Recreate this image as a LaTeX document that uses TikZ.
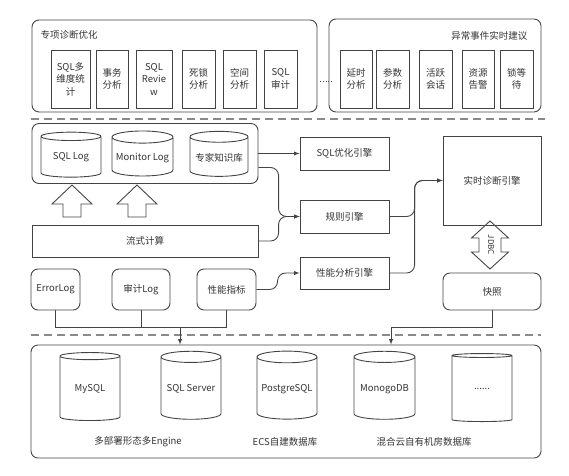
\documentclass[tikz,border=0pt]{standalone}
\usepackage{fontspec}
\setmainfont{Noto Sans CJK SC}
\usetikzlibrary{shapes.geometric}

\definecolor{linegray}{HTML}{444444}
\definecolor{txtgray}{HTML}{333333}
\definecolor{sepgray}{HTML}{8A8A8A}

\tikzset{
  grp/.style={draw=linegray, line width=0.9pt, rounded corners=7},
  item/.style={draw=linegray, line width=0.9pt, align=center, inner sep=1pt, minimum height=58},
  eng/.style={draw=linegray, line width=0.9pt, inner sep=1pt, minimum width=89, minimum height=33},
  src/.style={draw=linegray, line width=0.9pt, rounded corners=7, inner sep=1pt, minimum height=41},
  db/.style={cylinder, shape border rotate=90, aspect=0.22, draw=linegray, line width=0.9pt, minimum width=60, inner sep=1pt},
  blockarrow/.style={draw=linegray, line width=0.9pt, line join=miter},
  conn/.style={draw=linegray, line width=0.9pt, -latex, rounded corners=8},
  wire/.style={draw=linegray, line width=0.9pt},
  sepline/.style={draw=sepgray, line width=1.4pt, dash pattern=on 8pt off 5pt}
}

\begin{document}
\begin{tikzpicture}[x=1pt, y=-1pt, font=\fontsize{9.5}{12.5}\selectfont, text=txtgray]
        \useasboundingbox (0,0) rectangle (569,475);

        % special diagnosis
        \node[grp, minimum width=285, minimum height=92] (diag) at (174.5,66) {};
        \node[anchor=west] (diagtitle) at (37,35) {专项诊断优化};
        \node[item, minimum width=39] (multi) at (70.5,79) {SQL多\\维度统\\计};
        \node[item, minimum width=32] (trans) at (112,79) {事务\\分析};
        \node[item, minimum width=36] (review) at (154,79) {SQL\\Revie\\w};
        \node[item, minimum width=33] (dead) at (198.5,79) {死锁\\分析};
        \node[item, minimum width=33] (space) at (239.5,79) {空间\\分析};
        \node[item, minimum width=33] (sqlaudit) at (280.5,79) {SQL\\审计};
        \draw[linegray, dotted, line width=0.8pt] (320,81) -- (332,81);

        % realtime advice
        \node[grp, minimum width=212, minimum height=93] (alert) at (435,65.5) {};
        \node[anchor=east] (alerttitle) at (531,36) {异常事件实时建议};
        \node[item, minimum width=32] (delay) at (356,79) {延时\\分析};
        \node[item, minimum width=33] (param) at (392.5,79) {参数\\分析};
        \node[item, minimum width=33] (active) at (435.5,79) {活跃\\会话};
        \node[item, minimum width=32] (res) at (478,79) {资源\\告警};
        \node[item, minimum width=33] (lockwait) at (516.5,79) {锁等\\待};

        \draw[sepline] (31,119) -- (545,119);

        % logs and compute
        \node[grp, minimum width=226, minimum height=60] (logs) at (145,153.5) {};
        \node[db, minimum height=45] (sqllog) at (71,157.5) {SQL Log};
        \node[db, minimum height=45, minimum width=61] (monlog) at (142.5,157.5) {Monitor Log};
        \node[db, minimum height=45, minimum width=58] (expert) at (219,157.5) {专家知识库};
        \draw[blockarrow, shift={(72,0)}] (0,185) -- (20,204) -- (9,204) -- (9,217) -- (-9,217) -- (-9,204) -- (-20,204) -- cycle;
        \draw[blockarrow, shift={(137,0)}] (0,185) -- (20,204) -- (9,204) -- (9,217) -- (-9,217) -- (-9,204) -- (-20,204) -- cycle;
        \node[draw=linegray, line width=0.9pt, minimum width=226, minimum height=32] (flow) at (145,241) {流式计算};

        % engines
        \node[eng] (sqlopt) at (344.5,153.5) {SQL优化引擎};
        \node[eng] (rule) at (344.5,216.5) {规则引擎};
        \node[eng, minimum height=32] (perfeng) at (344.5,273) {性能分析引擎};
        \node[draw=linegray, line width=0.9pt, minimum width=98, minimum height=89] (rt) at (492,180.5) {实时诊断引擎};
        \draw[blockarrow, shift={(490,0)}] (0,221) -- (18.5,238) -- (11,238) -- (11,252) -- (18.5,252) -- (0,269)
              -- (-18.5,252) -- (-11,252) -- (-11,238) -- (-18.5,238) -- cycle;
        \node[rotate=-90, font=\fontsize{8}{9}\selectfont, inner sep=0pt] (jdbc) at (491,245) {JDBC};
        \node[src, minimum width=98, minimum height=37] (snap) at (492,291.5) {快照};

        % sources
        \node[src, minimum width=49] (err) at (55.5,289.5) {ErrorLog};
        \node[src, minimum width=58] (audit) at (141,289.5) {审计Log};
        \node[src, minimum width=59] (perf) at (226.5,289.5) {性能指标};

        \draw[conn] (logs.east) -- (sqlopt.west);
        \draw[conn] ([yshift=-14]logs.east) -| ([xshift=-21]rule.west) -- (rule.west);
        \draw[conn] (flow.east) -| ([xshift=-21]rule.west) -- (rule.west);
        \draw[conn] (perf.east) -| ([xshift=-22]perfeng.west) -- (perfeng.west);
        \draw[conn] (rule.east) -| ([xshift=-28]rt.west) -- (rt.west);
        \draw[conn] (perfeng.east) -| ([xshift=-28]rt.west) -- (rt.west);

        \draw[sepline] (31,335) -- (541,335);

        % databases
        \node[grp, minimum width=510, minimum height=113] (dbs) at (286,401.5) {};
        \node[db, minimum height=68] (mysql) at (90,389) {MySQL};
        \node[db, minimum height=68] (mssql) at (191,389) {SQL Server};
        \node[db, minimum height=68] (pg) at (287,389) {PostgreSQL};
        \node[db, minimum height=68, minimum width=61] (mongo) at (384.5,389) {MonogoDB};
        \node[db, minimum height=68] (more) at (482,389) {......};
        \node (multilabel) at (138,442) {多部署形态多Engine};
        \node (ecslabel) at (285,442) {ECS自建数据库};
        \node (hybridlabel) at (424,442) {混合云自有机房数据库};

        % feeds into databases
        \coordinate (srcjoin) at (180,327);
        \coordinate (snapjoin) at (391,327);
        \draw[wire] (err.south) |- (srcjoin);
        \draw[wire] (perf.south) |- (srcjoin);
        \draw[wire] (audit.south) -- (audit.south |- srcjoin);
        \draw[wire, -latex] (srcjoin) -- (srcjoin |- dbs.north);
        \draw[wire, -latex] (snap.south) |- (snapjoin) -- (snapjoin |- dbs.north);
\end{tikzpicture}
\end{document}
